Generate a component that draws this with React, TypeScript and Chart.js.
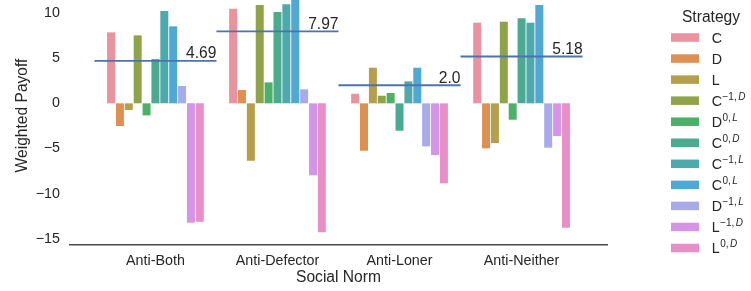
import React, { useEffect, useRef } from 'react';
import { Chart, registerables } from 'chart.js';

Chart.register(...registerables);

// ---------- data ----------
const groups = ['Anti-Both', 'Anti-Defector', 'Anti-Loner', 'Anti-Neither'];

const strategyBase = ['C', 'D', 'L', 'C', 'D', 'C', 'C', 'C', 'D', 'L', 'L'];
const strategySupNum = ['', '', '', '\u22121', '0', '0', '\u22121', '0', '\u22121', '\u22121', '0'];
const strategySupVar = ['', '', '', 'D', 'L', 'D', 'L', 'L', 'L', 'D', 'D'];

const colors = [
  '#e8939d', '#de9050', '#b59e4c', '#8fa448', '#4cb069', '#4caa91',
  '#4da9ac', '#52a8d4', '#a8aaea', '#d594e6', '#e78fc6',
];

// values per strategy, one entry per social norm (groups order)
const valC = [7.85, 10.46, 1.06, 8.92];
const valD = [-2.51, 1.47, -5.24, -4.98];
const valL = [-0.74, -6.35, 3.94, -4.39];
const valCm1D = [7.52, 10.87, 0.84, 9.03];
const valD0L = [-1.33, 2.32, 1.14, -1.81];
const valC0D = [4.9, 10.1, -3.03, 9.4];
const valCm1L = [10.21, 10.95, 2.43, 8.92];
const valC0L = [8.52, 11.7, 3.94, 10.87];
const valDm1L = [1.91, 1.55, -4.76, -4.91];
const valLm1D = [-13.2, -7.96, -5.72, -3.62];
const valL0D = [-13.1, -14.27, -8.85, -13.76];

const seriesValues = [valC, valD, valL, valCm1D, valD0L, valC0D, valCm1L, valC0L, valDm1L, valLm1D, valL0D];

const meanPayoff = [4.69, 7.97, 2.0, 5.18];
const yTicks = [-15, -10, -5, 0, 5, 10];

// ---------- style ----------
const FONT = "'Liberation Sans', Arial, Helvetica, sans-serif";
const TEXT = '#262626';
const LINE_BLUE = '#4c72b0';

const fmtMean = (v: number) => (Number.isInteger(v) ? v.toFixed(1) : String(v));
const fmtTick = (v: number) => (v < 0 ? '\u2212' + Math.abs(v) : String(v));

const meanLabelPlugin = {
  id: 'meanLabels',
  afterDatasetsDraw(chart: any) {
    const { ctx } = chart;
    const xs = chart.scales.x;
    const ys = chart.scales.y;
    ctx.save();
    ctx.fillStyle = TEXT;
    ctx.font = `15.6px ${FONT}`;
    ctx.textAlign = 'right';
    ctx.textBaseline = 'alphabetic';
    meanPayoff.forEach((m, i) => {
      ctx.fillText(fmtMean(m), xs.getPixelForValue(i + 0.5), ys.getPixelForValue(m) - 2.5);
    });
    ctx.restore();
  },
};

// y-axis title (the original axes box extends above the cropped image, so it is centred higher)
const yTitlePlugin = {
  id: 'yTitle',
  afterDraw(chart: any) {
    const { ctx } = chart;
    ctx.save();
    ctx.translate(22.4, 115.5);
    ctx.rotate(-Math.PI / 2);
    ctx.fillStyle = TEXT;
    ctx.font = `15.6px ${FONT}`;
    ctx.textAlign = 'center';
    ctx.textBaseline = 'middle';
    ctx.fillText('Weighted Payoff', 0, 0);
    ctx.restore();
  },
};

const legendPlugin = {
  id: 'strategyLegend',
  afterDraw(chart: any) {
    const { ctx } = chart;
    const left = chart.chartArea.right + 64;
    ctx.save();
    ctx.fillStyle = TEXT;
    ctx.font = `15.6px ${FONT}`;
    ctx.textAlign = 'center';
    ctx.textBaseline = 'alphabetic';
    ctx.fillText('Strategy', left + 40, 21.7);
    ctx.textAlign = 'left';
    strategyBase.forEach((b, i) => {
      const cy = 37.5 + i * 21.05;
      ctx.fillStyle = colors[i];
      ctx.fillRect(left, cy - 4.25, 28, 8.5);
      ctx.fillStyle = TEXT;
      ctx.font = `14.3px ${FONT}`;
      const tx = left + 40.7;
      ctx.fillText(b, tx, cy + 5.1);
      let x = tx + ctx.measureText(b).width + 0.5;
      if (strategySupNum[i]) {
        ctx.font = `10px ${FONT}`;
        const t = strategySupNum[i] + ',';
        ctx.fillText(t, x, cy - 1);
        x += ctx.measureText(t).width + 1.5;
        ctx.font = `italic 10px ${FONT}`;
        ctx.fillText(strategySupVar[i], x, cy - 1);
      }
    });
    ctx.restore();
  },
};

export default function App() {
  const ref = useRef<HTMLCanvasElement | null>(null);

  useEffect(() => {
    if (!ref.current) return;
    Chart.defaults.font.family = FONT;
    Chart.defaults.color = TEXT;

    const barSets = seriesValues.map((vals, s) => ({
      type: 'bar' as const,
      label: strategyBase[s] + strategySupNum[s] + strategySupVar[s],
      data: vals.map((v, i) => ({ x: i, y: v })),
      backgroundColor: colors[s],
      borderWidth: 0,
      order: 1,
    }));

    const lineSets = meanPayoff.map((m, i) => ({
      type: 'line' as const,
      label: 'mean ' + groups[i],
      data: [
        { x: i - 0.5, y: m },
        { x: i + 0.5, y: m },
      ],
      borderColor: LINE_BLUE,
      borderWidth: 1.8,
      pointRadius: 0,
      fill: false,
      order: 0,
    }));

    const chart = new Chart(ref.current, {
      type: 'bar',
      data: { datasets: [...barSets, ...lineSets] as any },
      options: {
        responsive: false,
        animation: false,
        devicePixelRatio: 1,
        layout: { padding: { left: 0, right: 144, top: 0, bottom: 0 } },
        datasets: { bar: { categoryPercentage: 0.8, barPercentage: 0.9, grouped: true } },
        plugins: { legend: { display: false }, tooltip: { enabled: false } },
        scales: {
          x: {
            type: 'linear',
            min: -0.7,
            max: 3.7,
            offset: false,
            grid: { display: false, drawTicks: false },
            border: { display: true, color: '#4a4a4a', width: 1.6 },
            afterBuildTicks: (s: any) => {
              s.ticks = groups.map((_, i) => ({ value: i }));
            },
            afterFit: (s: any) => {
              s.height = 46;
              s.paddingLeft = 0;
              s.paddingRight = 0;
            },
            ticks: {
              autoSkip: false,
              maxRotation: 0,
              padding: 7,
              color: TEXT,
              font: { size: 14.3 },
              callback: (v: any) => groups[v as number] ?? '',
            },
            title: {
              display: true,
              text: 'Social Norm',
              color: TEXT,
              font: { size: 15.6 },
              padding: { top: 0, bottom: 4 },
            },
          },
          y: {
            type: 'linear',
            min: -15.67,
            max: 11.43,
            grid: { display: false, drawTicks: false },
            border: { display: false },
            afterBuildTicks: (s: any) => {
              s.ticks = yTicks.map((v) => ({ value: v }));
            },
            afterFit: (s: any) => {
              s.width = 70;
              s.paddingTop = 0;
              s.paddingBottom = 0;
            },
            ticks: {
              padding: 10,
              color: TEXT,
              font: { size: 14.3 },
              callback: (v: any) => fmtTick(v as number),
            },
            title: { display: false },
          },
        },
      } as any,
      plugins: [meanLabelPlugin, yTitlePlugin, legendPlugin],
    });

    return () => chart.destroy();
  }, []);

  return (
    <div style={{ position: 'fixed', left: 0, top: 0, width: 751, height: 291, background: '#fff' }}>
      <canvas ref={ref} width={751} height={291} style={{ display: 'block', width: 751, height: 291 }} />
    </div>
  );
}
